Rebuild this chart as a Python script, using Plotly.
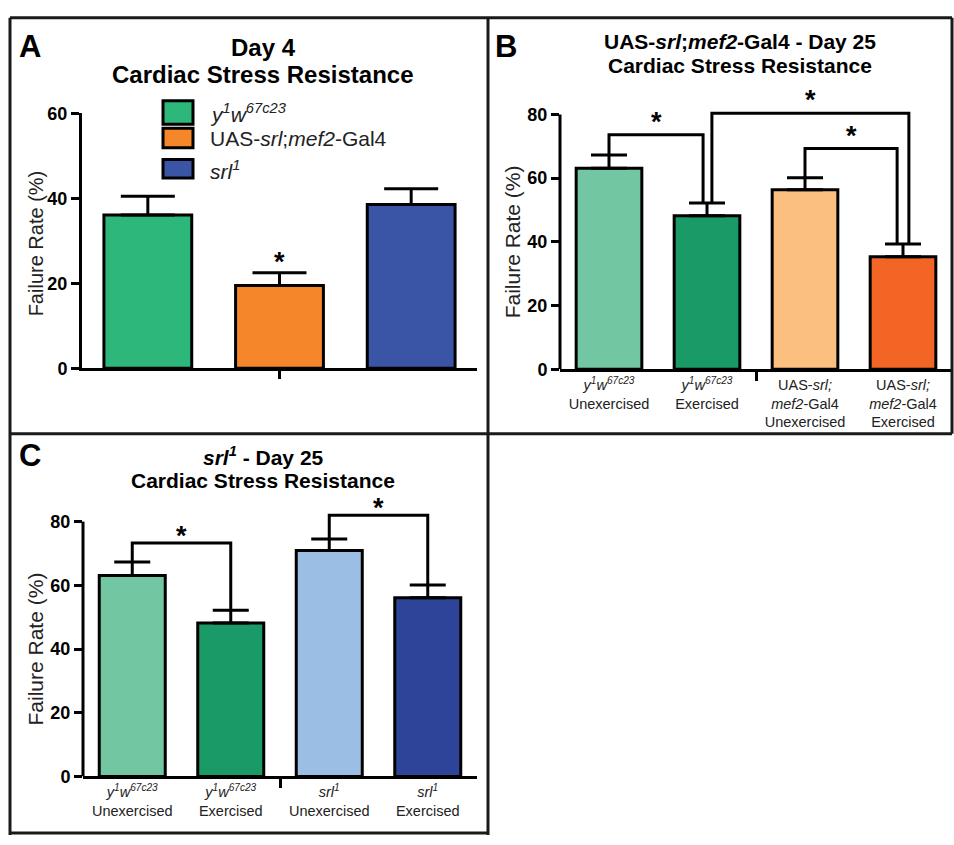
import plotly.graph_objects as go

W, H = 954, 845
FONT = "Liberation Sans, Arial, Helvetica, sans-serif"

# ---------------- data ----------------
# Panel A - Day 4
a_groups = ["y1w67c23", "UAS-srl;mef2-Gal4", "srl1"]
a_legend = ["<i>y<sup>1</sup>w<sup>67c23</sup></i>",
            "UAS-<i>srl</i>;<i>mef2</i>-Gal4",
            "<i>srl<sup>1</sup></i>"]
a_values = [36.1, 19.5, 38.6]
a_errors = [4.4, 3.0, 3.7]
a_colors = ["#2db77a", "#f5862a", "#3b55a6"]
a_ticks = [0, 20, 40, 60]

# Panel B - UAS-srl;mef2-Gal4 Day 25
b_labels = ["<i>y<sup>1</sup>w<sup>67c23</sup></i><br>Unexercised",
            "<i>y<sup>1</sup>w<sup>67c23</sup></i><br>Exercised",
            "UAS-<i>srl;</i><br><i>mef2</i>-Gal4<br>Unexercised",
            "UAS-<i>srl;</i><br><i>mef2</i>-Gal4<br>Exercised"]
b_values = [63.1, 48.2, 56.4, 35.3]
b_errors = [4.2, 4.0, 3.7, 4.0]
b_colors = ["#72c6a1", "#1a9a67", "#fbbf80", "#f26524"]
# significance brackets: (left bar, right bar, bracket height)
b_brackets = [(0, 1, 73.6), (1, 3, 80.4), (2, 3, 69.3)]
b_offsets = [(0.0, -0.04), (0.05, 0.06), (0.0, -0.06)]

# Panel C - srl1 Day 25
c_labels = ["<i>y<sup>1</sup>w<sup>67c23</sup></i><br>Unexercised",
            "<i>y<sup>1</sup>w<sup>67c23</sup></i><br>Exercised",
            "<i>srl<sup>1</sup></i><br>Unexercised",
            "<i>srl<sup>1</sup></i><br>Exercised"]
c_values = [63.1, 48.2, 70.9, 56.1]
c_errors = [4.2, 4.0, 3.6, 4.0]
c_colors = ["#72c6a1", "#1a9a67", "#9bbfe4", "#2e4499"]
c_brackets = [(0, 1, 73.3), (2, 3, 82.0)]
c_offsets = [(0.0, 0.0), (0.0, 0.0)]
bc_ticks = [0, 20, 40, 60, 80]


def X(p):
    return p / W


def Y(p):
    return 1 - p / H


fig = go.Figure()


def add_bars(values, errors, colors, xa, ya, width, capw):
    fig.add_trace(go.Bar(
        x=list(range(len(values))), y=values, width=width,
        marker=dict(color=colors, line=dict(color="black", width=3)),
        error_y=dict(type="data", array=errors, arrayminus=[0] * len(values),
                     symmetric=False, color="black", thickness=3, width=capw),
        xaxis=xa, yaxis=ya, showlegend=False, hoverinfo="skip"))


def add_brackets(values, errors, brackets, offsets, xa, ya):
    for (i, j, lev), (di, dj) in zip(brackets, offsets):
        xi, xj = i + di, j + dj
        fig.add_trace(go.Scatter(
            x=[xi, xi, xj, xj],
            y=[values[i] + errors[i], lev, lev, values[j] + errors[j]],
            mode="lines", line=dict(color="black", width=3),
            xaxis=xa, yaxis=ya, showlegend=False, hoverinfo="skip"))


add_bars(a_values, a_errors, a_colors, "x", "y", 0.667, 27)
add_bars(b_values, b_errors, b_colors, "x2", "y2", 0.67, 18)
add_bars(c_values, c_errors, c_colors, "x3", "y3", 0.67, 18)
add_brackets(b_values, b_errors, b_brackets, b_offsets, "x2", "y2")
add_brackets(c_values, c_errors, c_brackets, c_offsets, "x3", "y3")

tickfont = dict(family=FONT, size=18, color="black", weight="bold")
xlabfont = dict(family=FONT, size=14.5, color="#222")

common_x = dict(showgrid=False, zeroline=False, showline=True, linecolor="black",
                linewidth=3, fixedrange=True)
common_y = dict(showgrid=False, zeroline=False, ticks="outside", ticklen=8,
                tickwidth=3, tickcolor="black", tickfont=tickfont, fixedrange=True)

fig.update_layout(
    width=W, height=H, margin=dict(l=0, r=0, t=0, b=0),
    paper_bgcolor="white", plot_bgcolor="white", bargap=0,
    xaxis=dict(domain=[X(82), X(477)], range=[-0.5, 2.5], anchor="y",
               tickmode="array", tickvals=[1], ticktext=[""], ticks="outside",
               ticklen=8, tickwidth=3, tickcolor="black", **common_x),
    yaxis=dict(domain=[Y(367), Y(106)], range=[0, 60], anchor="x",
               tickmode="array", tickvals=a_ticks, showline=True, linecolor="black",
               linewidth=3, **common_y),
    xaxis2=dict(domain=[X(560), X(952)], range=[-0.5, 3.5], anchor="y2",
                tickmode="array", tickvals=[0, 1, 2, 3], ticktext=b_labels, ticks="",
                tickfont=xlabfont,
                minor=dict(tickmode="array", tickvals=[1.5], ticks="outside", ticklen=9,
                           tickwidth=3, tickcolor="black", showgrid=False),
                **common_x),
    yaxis2=dict(domain=[Y(368), Y(368 - 85 * 3.2625)], range=[0, 85], anchor="x2",
                tickmode="array", tickvals=bc_ticks, showline=False, **common_y),
    xaxis3=dict(domain=[X(83), X(477)], range=[-0.5, 3.5], anchor="y3",
                tickmode="array", tickvals=[0, 1, 2, 3], ticktext=c_labels, ticks="",
                tickfont=xlabfont,
                minor=dict(tickmode="array", tickvals=[1.5], ticks="outside", ticklen=9,
                           tickwidth=3, tickcolor="black", showgrid=False),
                **common_x),
    yaxis3=dict(domain=[Y(785), Y(785 - 85 * 3.2625)], range=[0, 85], anchor="x3",
                tickmode="array", tickvals=bc_ticks, showline=False, **common_y),
)

shapes = []
# y-axis lines for B and C (ending at the top tick)
for xa, ya in (("x2", "y2"), ("x3", "y3")):
    shapes.append(dict(type="line", xref=xa + " domain", yref=ya, x0=0, x1=0,
                       y0=0, y1=bc_ticks[-1], line=dict(color="black", width=3)))

# panel frames
frame = dict(color="#1a1a1a", width=3)
for (x0, y0, x1, y1) in [(10, 8, 952, 8), (10, 8, 10, 845), (488, 8, 488, 845),
                         (952, 8, 952, 434), (10, 434, 952, 434), (10, 843, 488, 843)]:
    shapes.append(dict(type="line", xref="paper", yref="paper",
                       x0=X(x0), x1=X(x1), y0=Y(y0), y1=Y(y1), line=frame))

# legend swatches for panel A
leg_rows = [(93, 117), (121, 141), (153, 172)]
for (t, b), col in zip(leg_rows, a_colors):
    shapes.append(dict(type="rect", xref="paper", yref="paper",
                       x0=X(163), x1=X(193), y0=Y(b), y1=Y(t),
                       fillcolor=col, line=dict(color="black", width=3)))

ann = []


def text(x, y, s, size, bold=False, xanchor="center", angle=0, color="black"):
    ann.append(dict(x=X(x), y=Y(y), xref="paper", yref="paper", text=s,
                    showarrow=False, xanchor=xanchor, yanchor="middle",
                    textangle=angle,
                    font=dict(family=FONT, size=size, color=color,
                              weight="bold" if bold else "normal")))


# panel letters
text(17, 37, "A", 31, True, "left")
text(493, 37, "B", 31, True, "left")
text(17, 456, "C", 31, True, "left")

# titles
text(263, 38, "Day 4", 24, True)
text(263, 66, "Cardiac Stress Resistance", 24, True)
text(740, 32, "UAS-<i>srl</i>;<i>mef2</i>-Gal4 - Day 25", 21, True)
text(740, 57, "Cardiac Stress Resistance", 21, True)
text(263, 457, "<i>srl<sup>1</sup></i> - Day 25", 21, True)
text(263, 482, "Cardiac Stress Resistance", 21, True)

# y-axis titles
text(36, 239, "Failure Rate (%)", 20, angle=-90, color="#222")
text(512, 238, "Failure Rate (%)", 21, angle=-90, color="#222")
text(35, 655, "Failure Rate (%)", 21, angle=-90, color="#222")

# legend texts
for (t, b), lab in zip(leg_rows, a_legend):
    text(208, (t + b) / 2 + 1, lab, 21, xanchor="left", color="#222")

# significance stars
star_font = dict(family=FONT, size=27, color="black", weight="bold")
ann.append(dict(x=1, y=a_values[1] + a_errors[1], xref="x", yref="y", text="*",
                showarrow=False, yanchor="bottom", yshift=-6, font=star_font))
for (i, j, lev), (di, dj) in zip(b_brackets, b_offsets):
    ann.append(dict(x=(i + di + j + dj) / 2, y=lev, xref="x2", yref="y2", text="*",
                    showarrow=False, yanchor="bottom", yshift=-4, font=star_font))
for (i, j, lev), (di, dj) in zip(c_brackets, c_offsets):
    ann.append(dict(x=(i + di + j + dj) / 2, y=lev, xref="x3", yref="y3", text="*",
                    showarrow=False, yanchor="bottom", yshift=-10, font=star_font))

fig.update_layout(shapes=shapes, annotations=ann)
fig.write_html(
    "out.html",
    config={"displayModeBar": False, "staticPlot": True},
    post_script=(
        "document.body.style.margin='0';"
        "document.documentElement.style.overflow='hidden';"
        "var d=document.getElementById('{plot_id}');"
        "d.style.position='fixed';d.style.left='0px';d.style.top='0px';"
    ),
)
